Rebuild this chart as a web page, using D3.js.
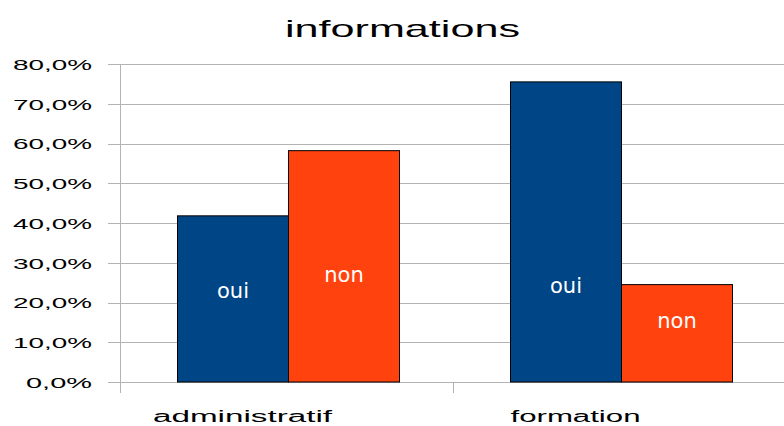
<!DOCTYPE html>
<html>
<head>
<meta charset="utf-8">
<script src="https://cdn.jsdelivr.net/npm/d3@7"></script>
<style>
  body { margin: 0; background: #ffffff; }
  svg { display: block; }
</style>
</head>
<body>
<div id="chart"></div>
<script>

///////////////////////////////////////////////
// Data ///////////////////////////////////////
///////////////////////////////////////////////

var categories = ["administratif", "formation"];
var seriesNames = ["oui", "non"];
var ouiValues = [41.8, 75.5];
var nonValues = [58.2, 24.5];
// where the in-bar labels sit (in % units)
var ouiLabelAt = [21.1, 22.4];
var nonLabelAt = [25.2, 13.6];
var yTicks = [0, 10, 20, 30, 40, 50, 60, 70, 80];

var color = ["#004586", "#ff420e"];

var data = categories.map(function(c, i) {
  return { category: c, values: [
    { key: "oui", value: ouiValues[i], labelAt: ouiLabelAt[i] },
    { key: "non", value: nonValues[i], labelAt: nonLabelAt[i] }
  ]};
});

///////////////////////////////////////////////
// Graph parameters ///////////////////////////
///////////////////////////////////////////////

var W = 784, H = 426;
var margin = { top: 64, left: 120, right: -2, bottom: 44 };
var width = W - margin.left - margin.right;
var height = H - margin.top - margin.bottom;

var svg = d3.select("#chart").append("svg")
    .attr("width", W)
    .attr("height", H);

var g = svg.append("g")
    .attr("transform", "translate(" + margin.left + "," + margin.top + ")");

///////////////////////////////////////////////
// Scales /////////////////////////////////////
///////////////////////////////////////////////

var x0 = d3.scaleBand()
    .domain(categories)
    .range([2, width + 2]);

var x1 = d3.scaleBand()
    .domain(seriesNames)
    .range([0, x0.bandwidth()])
    .paddingOuter(0.5);

var y = d3.scaleLinear()
    .domain([0, 80])
    .range([height, 0]);

///////////////////////////////////////////////
// Axes ///////////////////////////////////////
///////////////////////////////////////////////

var gridColor = "#b3b3b3";

// horizontal grid lines + left ticks
var yAxis = d3.axisLeft(y)
  .tickValues(yTicks)
  .tickSize(-width)
  .tickFormat(function(d) { return d3.format(".1f")(d).replace(".", ",") + "%"; });

g.append("g")
  .attr("class", "axisY")
  .call(yAxis)
  .call(function(s) {
    s.select(".domain").remove();
    s.selectAll(".tick line")
      .attr("x1", -12)
      .attr("stroke", gridColor)
      .attr("shape-rendering", "crispEdges");
    s.selectAll(".tick text")
      .attr("x", -28)
      .attr("dy", "0.36em")
      .attr("textLength", function(d) { return d === 0 ? 66 : 79; })
      .attr("lengthAdjust", "spacingAndGlyphs")
      .style("font-family", "'Liberation Sans', Arial, sans-serif")
      .style("font-size", "15px")
      .style("fill", "#000000");
  });

// vertical axis line
g.append("line")
  .attr("x1", 0).attr("x2", 0)
  .attr("y1", 0).attr("y2", height)
  .attr("stroke", gridColor)
  .attr("shape-rendering", "crispEdges");

// category separators under the baseline
var sepX = [0].concat(categories.map(function(c) { return x0(c) + x0.bandwidth() - 2; }));
g.selectAll(".sep")
  .data(sepX)
  .enter().append("line")
  .attr("class", "sep")
  .attr("x1", function(d) { return d; })
  .attr("x2", function(d) { return d; })
  .attr("y1", height)
  .attr("y2", height + 11)
  .attr("stroke", gridColor)
  .attr("shape-rendering", "crispEdges");

// category labels (drawn left of the band centre, as in the source)
var catWidth = { administratif: 179, formation: 130 };
g.selectAll(".cat")
  .data(categories)
  .enter().append("text")
  .attr("class", "cat")
  .attr("x", function(d) { return x0(d) + x0.bandwidth() / 2 - 46; })
  .attr("y", height + 40)
  .attr("text-anchor", "middle")
  .attr("textLength", function(d) { return catWidth[d]; })
  .attr("lengthAdjust", "spacingAndGlyphs")
  .style("font-family", "'Liberation Sans', Arial, sans-serif")
  .style("font-size", "16px")
  .style("fill", "#000000")
  .text(function(d) { return d; });

///////////////////////////////////////////////
// Bars ///////////////////////////////////////
///////////////////////////////////////////////

var groups = g.selectAll(".group")
    .data(data)
    .enter().append("g")
    .attr("class", "group")
    .attr("transform", function(d) { return "translate(" + x0(d.category) + ",0)"; });

groups.selectAll("rect")
    .data(function(d) { return d.values; })
    .enter().append("rect")
    .attr("x", function(d) { return x1(d.key); })
    .attr("y", function(d) { return y(d.value); })
    .attr("width", x1.bandwidth())
    .attr("height", function(d) { return height - y(d.value); })
    .attr("fill", function(d, i) { return color[i]; })
    .attr("stroke", "#000000")
    .attr("stroke-width", 1);

groups.selectAll(".lab")
    .data(function(d) { return d.values; })
    .enter().append("text")
    .attr("class", "lab")
    .attr("x", function(d) { return x1(d.key) + x1.bandwidth() / 2; })
    .attr("y", function(d) { return y(d.labelAt); })
    .attr("text-anchor", "middle")
    .style("font-family", "'DejaVu Sans', sans-serif")
    .style("font-size", "21px")
    .style("fill", "#ffffff")
    .text(function(d) { return d.key; });

///////////////////////////////////////////////
// Title //////////////////////////////////////
///////////////////////////////////////////////

svg.append("text")
    .attr("x", 402.5)
    .attr("y", 37)
    .attr("text-anchor", "middle")
    .attr("textLength", 235)
    .attr("lengthAdjust", "spacingAndGlyphs")
    .style("font-family", "'Liberation Sans', Arial, sans-serif")
    .style("font-size", "24px")
    .style("fill", "#000000")
    .text("informations");

</script>
</body>
</html>
